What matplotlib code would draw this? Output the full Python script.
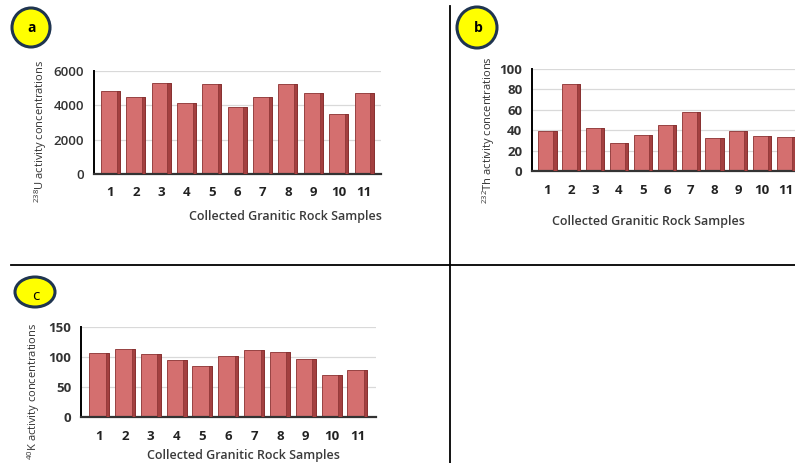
import matplotlib
matplotlib.use("Agg")
import matplotlib.pyplot as plt
from matplotlib.patches import Ellipse
from matplotlib.lines import Line2D
import numpy as np

plt.rcParams['font.family'] = ['Open Sans', 'DejaVu Sans']
plt.rcParams['mathtext.fontset'] = 'custom'
plt.rcParams['mathtext.rm'] = 'Open Sans'

samples = [str(i) for i in range(1, 12)]
u238 = [4850, 4480, 5300, 4150, 5250, 3900, 4480, 5250, 4740, 3520, 4740]
th232 = [39, 85.5, 42.5, 27.5, 35.5, 45, 57.5, 32.5, 39.5, 34.5, 33.5]
k40 = [106, 113, 105, 95, 85, 102, 111, 109, 97, 70, 79]

xlabel = "Collected Granitic Rock Samples"
ylabels = [r"$^{\mathrm{238}}$U activity concentrations",
           r"$^{\mathrm{232}}$Th activity concentrations",
           r"$^{\mathrm{40}}$K activity concentrations"]

W, H = 795, 463
fig = plt.figure(figsize=(W / 100, H / 100), dpi=100)


def px_axes(x0, y0, x1, y1):
    # pixel box (left, top, right, bottom) -> figure axes
    return fig.add_axes([x0 / W, 1 - y1 / H, (x1 - x0) / W, (y1 - y0) / H])


def bar_panel(ax, vals, ymax, step, xlim, width, bold_y=True):
    x = np.arange(1, len(vals) + 1)
    ax.set_xlim(*xlim)
    ax.set_ylim(0, ymax)
    ax.set_yticks(np.arange(0, ymax + 1, step))
    ax.yaxis.grid(True, color='#d9d9d9', lw=0.9)
    ax.set_axisbelow(True)
    # front face
    ax.bar(x, vals, width=width, color='#d46f6f', edgecolor='#8a3030', lw=0.6, zorder=2)
    # darker right side to fake the 3-D look
    ax.bar(x + width / 2 - 0.13, vals, width=0.13, align='edge', color='#a34040',
           edgecolor='#7a2626', lw=0.4, zorder=3)
    ax.set_xticks(x)
    ax.set_xticklabels(samples)
    for s in ['top', 'right']:
        ax.spines[s].set_visible(False)
    ax.spines['left'].set_linewidth(1.4)
    ax.spines['bottom'].set_linewidth(1.6)
    ax.spines['bottom'].set_color('#333333')
    ax.tick_params(axis='both', length=0, labelsize=9.5, colors='#222222')
    ax.tick_params(axis='x', pad=9)
    ax.tick_params(axis='y', pad=7)
    for t in ax.get_xticklabels():
        t.set_fontweight('bold')
    for t in ax.get_yticklabels():
        t.set_fontweight('bold' if bold_y else 'semibold')
        t.set_color('#333333')
    ax.patch.set_alpha(0)


# panel a
axa = px_axes(94, 71, 381, 174)
bar_panel(axa, u238, 6000, 2000, (0.35, 11.67), 0.75, bold_y=False)
# panel b
axb = px_axes(532, 69, 802, 171)
bar_panel(axb, th232, 100, 20, (0.35, 11.67), 0.76)
# panel c
axc = px_axes(81, 327, 376, 417)
bar_panel(axc, k40, 150, 50, (0.30, 11.72), 0.77)

# axis titles
for cx, cy in [(285, 216), (648, 221), (243, 456)]:
    fig.text(cx / W, 1 - cy / H, xlabel, ha='center', va='center', fontsize=9,
             fontweight='semibold', color='#3a3a3a')
for lab, cx, cy in zip(ylabels, [41, 489, 34], [132, 130, 391]):
    fig.text(cx / W, 1 - cy / H, lab, rotation=90, ha='center', va='center',
             fontsize=8, color='#333333')

# panel badges
badges = [("a", 31, 27.5, 38, 39, 'bold', 28), ("b", 477, 27.5, 40, 41, 'bold', 28),
          ("c", 35, 292, 40, 30, 'normal', 296)]
for lab, cx, cy, bw, bh, fw, ty in badges:
    fig.add_artist(Ellipse((cx / W, 1 - cy / H), bw / W, bh / H, transform=fig.transFigure,
                           fc='#ffff00', ec='#1f3550', lw=2.2))
    fig.text((cx + 1) / W, 1 - ty / H, lab, ha='center', va='center',
             fontsize=10 if fw == 'bold' else 11, fontweight=fw, color='black')

# separating frame lines
fig.add_artist(Line2D([11 / W, 1], [1 - 265 / H] * 2, transform=fig.transFigure,
                      color='black', lw=1.3))
fig.add_artist(Line2D([449.5 / W] * 2, [0, 1 - 6 / H], transform=fig.transFigure,
                      color='black', lw=1.3))

fig.savefig("out.png", dpi=100)
